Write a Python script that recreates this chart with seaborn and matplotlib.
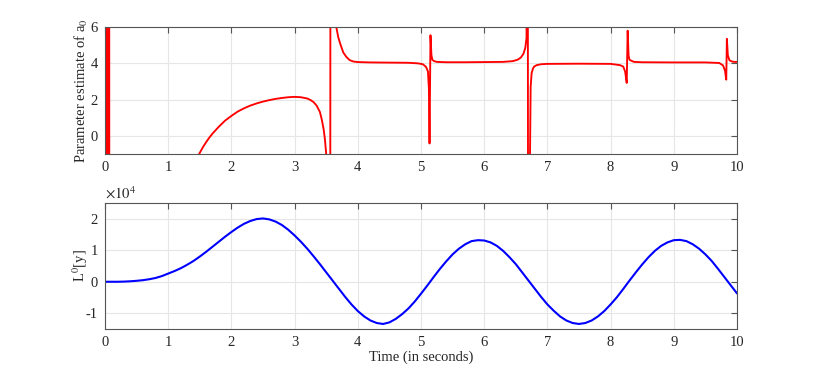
import numpy as np
import matplotlib
matplotlib.use('Agg')
import matplotlib.pyplot as plt
from matplotlib.ticker import FuncFormatter
import seaborn as sns

# --- datos ---
# estimacion del parametro a0 (curva roja)
a0_time = [0.0, 0.015, 0.02, 0.025, 0.03, 0.035, 0.04, 0.045, 0.05, 0.055, 0.06, 0.065, 0.07, 0.08,
           1.40, 1.49, 1.55, 1.6, 1.65, 1.7, 1.8, 1.9, 2.0, 2.1, 2.2, 2.3, 2.4, 2.5, 2.6, 2.7, 2.8, 2.9,
           3.0, 3.1, 3.2, 3.25, 3.3, 3.35, 3.4, 3.43, 3.46, 3.48, 3.50, 3.53, 3.56, 3.57, 3.64, 3.66,
           3.69, 3.72, 3.77, 3.82, 3.87, 3.93, 4.0, 4.2, 4.5, 4.8, 4.95, 5.03, 5.08, 5.11, 5.125, 5.135,
           5.15, 5.165, 5.18, 5.21, 5.25, 5.4, 5.7, 6.0, 6.3, 6.45, 6.53, 6.58, 6.62, 6.65, 6.67, 6.685,
           6.70, 6.715, 6.725, 6.735, 6.75, 6.77, 6.79, 6.83, 6.9, 7.0, 7.5, 8.0, 8.15, 8.2, 8.23, 8.255,
           8.27, 8.285, 8.30, 8.37, 8.5, 9.0, 9.5, 9.72, 9.78, 9.81, 9.83, 9.84, 9.855, 9.88, 9.92, 9.96, 10.0]
a0_vals = [30, 30, -30, 30, -30, 30, -30, 30, -30, 30, -30, 30, -30, -30,
           -3.0, -1.0, -0.62, -0.35, -0.10, 0.12, 0.50, 0.84, 1.10, 1.34, 1.52, 1.67, 1.79, 1.89, 1.97, 2.04, 2.09, 2.13,
           2.15, 2.13, 2.06, 1.98, 1.86, 1.66, 1.32, 0.90, 0.35, -0.20, -1.00, -6.0, -30, 30, 30, 6.0,
           5.45, 5.10, 4.60, 4.35, 4.18, 4.10, 4.07, 4.05, 4.04, 4.03, 4.00, 3.95, 3.80, 3.55, 2.6, -0.42,
           5.55, 4.45, 4.19, 4.12, 4.08, 4.06, 4.06, 4.07, 4.08, 4.12, 4.20, 4.32, 4.52, 4.85, 5.40, 30,
           -30, -30, -1.0, 2.7, 3.45, 3.70, 3.82, 3.90, 3.95, 3.97, 3.98, 3.97, 3.90, 3.82, 3.55, 2.92,
           5.80, 4.40, 4.19, 4.08, 4.06, 4.05, 4.05, 4.02, 3.88, 3.60, 3.10, 5.35, 4.45, 4.17, 4.10, 4.08, 4.08]

# L0[y] (curva azul), en unidades de 1e4
L0_time = np.linspace(0, 10, 101)
L0_vals = [0.00, 0.00, 0.00, 0.005, 0.015, 0.03, 0.05, 0.08, 0.12, 0.18,
           0.26, 0.34, 0.43, 0.54, 0.66, 0.80, 0.95, 1.11, 1.27, 1.43,
           1.58, 1.72, 1.84, 1.93, 1.99, 2.01, 1.98, 1.91, 1.80, 1.65,
           1.47, 1.27, 1.05, 0.81, 0.56, 0.30, 0.04, -0.22, -0.48, -0.72,
           -0.93, -1.10, -1.23, -1.31, -1.34, -1.29, -1.18, -1.03, -0.85, -0.63,
           -0.38, -0.12, 0.15, 0.41, 0.65, 0.87, 1.05, 1.19, 1.29, 1.32,
           1.31, 1.25, 1.14, 0.98, 0.78, 0.56, 0.30, 0.04, -0.22, -0.48,
           -0.72, -0.92, -1.10, -1.23, -1.31, -1.34, -1.31, -1.23, -1.10, -0.93,
           -0.72, -0.49, -0.23, 0.04, 0.30, 0.55, 0.78, 0.98, 1.14, 1.25,
           1.32, 1.33, 1.29, 1.19, 1.05, 0.87, 0.66, 0.41, 0.15, -0.11,
           -0.37]
L0_scale = 1e4

x_ticks = list(range(0, 11))
a0_ticks = [0, 2, 4, 6]
L0_ticks = [-1e4, 0, 1e4, 2e4]

sns.set_theme(style="whitegrid")
plt.rcParams['font.family'] = ['Liberation Serif', 'DejaVu Serif']
plt.rcParams['mathtext.fontset'] = 'stix'
plt.rcParams['axes.unicode_minus'] = False

fig = plt.figure(figsize=(8.14, 3.71), dpi=100)
ax1 = fig.add_axes([0.129, 0.585, 0.7764, 0.342])
ax2 = fig.add_axes([0.129, 0.1132, 0.7764, 0.3396])

sns.lineplot(x=a0_time, y=a0_vals, ax=ax1, color='#ff0000', lw=1.35,
             estimator=None, sort=False)
sns.lineplot(x=L0_time, y=np.array(L0_vals) * L0_scale, ax=ax2, color='#0000ff', lw=1.5,
             estimator=None, sort=False)

ax1.set_ylim(-1, 6)
ax1.set_yticks(a0_ticks)
ax2.set_ylim(-1.5e4, 2.5e4)
ax2.set_yticks(L0_ticks)
# etiquetas en unidades de 1e4, con el factor escrito arriba como en MATLAB
ax2.yaxis.set_major_formatter(FuncFormatter(lambda v, pos: f'{v / L0_scale:g}'))
ax2.text(0.0, 1.012, r'$\times10^{4}$', transform=ax2.transAxes, ha='left', va='bottom',
         fontsize=10.5, color='#262626')

for ax in (ax1, ax2):
    ax.set_facecolor('white')
    ax.set_xlim(0, 10)
    ax.set_xticks(x_ticks)
    ax.grid(True, color='#e6e6e6', lw=0.8)
    for s in ax.spines.values():
        s.set_visible(True)
        s.set_color('#555555')
        s.set_linewidth(0.8)
    ax.tick_params(direction='in', length=4, width=0.8, color='#555555',
                   top=True, right=True, labelsize=10.5, labelcolor='#262626', pad=5)

ax1.set_ylabel('Parameter estimate of a$_0$', fontsize=10.5, color='#262626')
ax2.set_ylabel('L$^0$[y]', fontsize=10.5, color='#262626')
ax1.yaxis.set_label_coords(-0.024, 0.5)
ax2.yaxis.set_label_coords(-0.024, 0.5)
ax2.set_xlabel('Time (in seconds)', fontsize=10.5, color='#262626', labelpad=1)

fig.savefig('out.png', dpi=100)
